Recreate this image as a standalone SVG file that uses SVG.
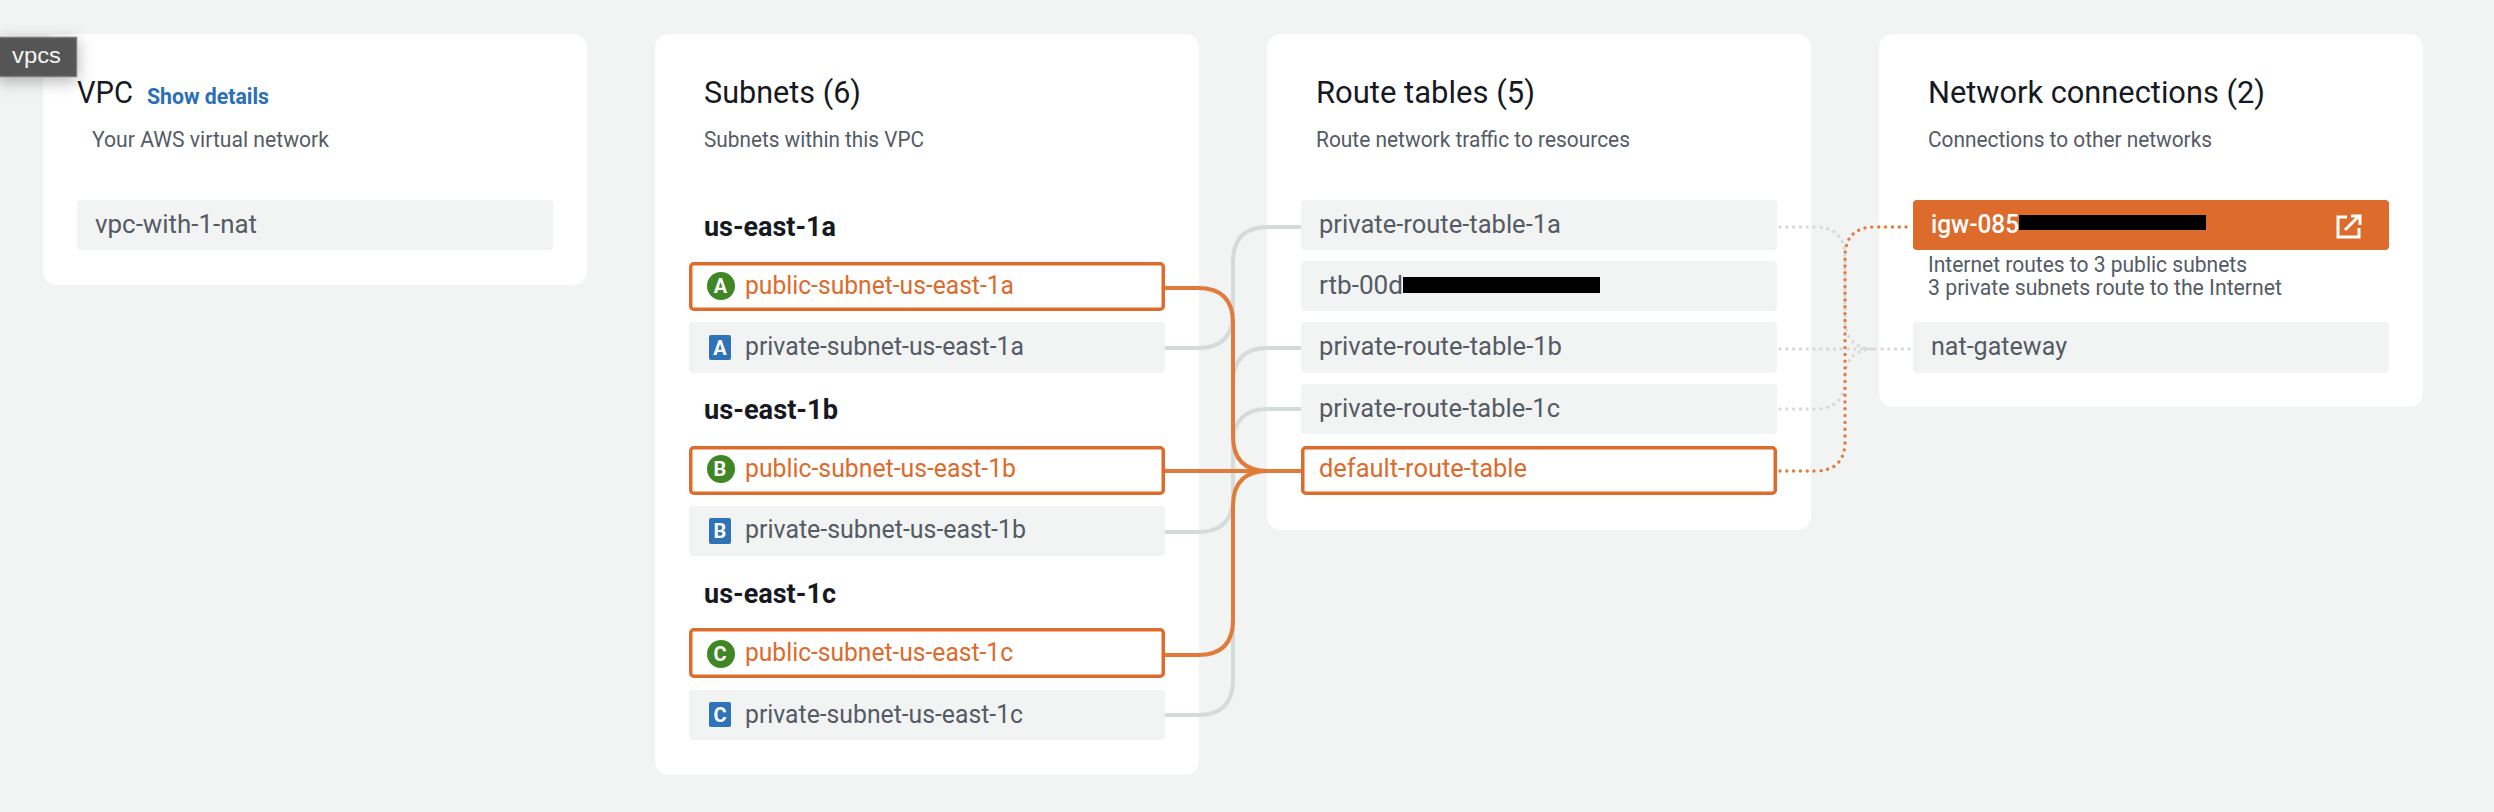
<svg xmlns="http://www.w3.org/2000/svg" width="2494" height="812" viewBox="0 0 2494 812">
<style>
text{font-family:Roboto,"Liberation Sans",sans-serif}
.card{fill:#fff}
.row{fill:#f2f3f3}
.sel{fill:#fff;stroke:#dd6b2b;stroke-width:3.5}
.t{font-size:31px;fill:#16191f}
.s{font-size:22px;fill:#545b64}
.i{font-size:26px;fill:#545b64}
.o{font-size:26px;fill:#dd6b2b}
.az{font-size:28px;font-weight:700;fill:#16191f}
.b{font-size:20px;font-weight:700;fill:#fff;text-anchor:middle}
.g{fill:#3f8624}
.a{fill:#2e73b8}
.red{fill:#000}
.grey,.org,.gd,.od{fill:none}
.grey{stroke:#d5dbdb;stroke-width:4}
.org{stroke:#e07b39;stroke-width:4}
.gd{stroke:#d5dbdb;stroke-width:3.4;stroke-linecap:round;stroke-dasharray:0 6.8}
.od{stroke:#e07b39;stroke-width:3.4;stroke-linecap:round;stroke-dasharray:0 6.8}
</style>
<defs>
<filter id="sh" x="-40%" y="-60%" width="180%" height="240%"><feDropShadow dx="0" dy="4" stdDeviation="8" flood-color="#000" flood-opacity=".3"/></filter>
<filter id="soft" x="-5%" y="-30%" width="110%" height="160%"><feGaussianBlur stdDeviation="0.6"/></filter>
</defs>
<rect width="2494" height="812" fill="#f2f3f3"/>

<g id="card-vpc">
<rect class="card" x="43" y="34" width="544" height="251" rx="14"/>
<text class="t" x="77" y="103" textLength="56" lengthAdjust="spacingAndGlyphs">VPC</text>
<text x="147" y="104" font-size="22" font-weight="700" fill="#2a6fb8" textLength="122" lengthAdjust="spacingAndGlyphs">Show details</text>
<text class="s" x="92" y="147" textLength="237" lengthAdjust="spacingAndGlyphs">Your AWS virtual network</text>
</g>
<g id="vpc-with-1-nat">
<rect class="row" x="77" y="200" width="476" height="50" rx="4"/>
<text class="i" x="95" y="233" textLength="162" lengthAdjust="spacingAndGlyphs">vpc-with-1-nat</text>
</g>

<g id="card-subnets">
<rect class="card" x="655" y="34" width="544" height="741" rx="14"/>
<text class="t" x="704" y="103" textLength="157" lengthAdjust="spacingAndGlyphs">Subnets (6)</text>
<text class="s" x="704" y="147" textLength="220" lengthAdjust="spacingAndGlyphs">Subnets within this VPC</text>
<text class="az" x="704" y="236" textLength="132" lengthAdjust="spacingAndGlyphs">us-east-1a</text>
<text class="az" x="704" y="419" textLength="134" lengthAdjust="spacingAndGlyphs">us-east-1b</text>
<text class="az" x="704" y="603" textLength="132" lengthAdjust="spacingAndGlyphs">us-east-1c</text>
</g>
<g id="card-route-tables">
<rect class="card" x="1267" y="34" width="544" height="496" rx="14"/>
<text class="t" x="1316" y="103" textLength="219" lengthAdjust="spacingAndGlyphs">Route tables (5)</text>
<text class="s" x="1316" y="147" textLength="314" lengthAdjust="spacingAndGlyphs">Route network traffic to resources</text>
</g>
<g id="card-network-connections">
<rect class="card" x="1879" y="34" width="544" height="373" rx="14"/>
<text class="t" x="1928" y="103" textLength="337" lengthAdjust="spacingAndGlyphs">Network connections (2)</text>
<text class="s" x="1928" y="147" textLength="284" lengthAdjust="spacingAndGlyphs">Connections to other networks</text>
<text class="s" x="1928" y="272" textLength="319" lengthAdjust="spacingAndGlyphs">Internet routes to 3 public subnets</text>
<text class="s" x="1928" y="295" textLength="354" lengthAdjust="spacingAndGlyphs">3 private subnets route to the Internet</text>
</g>

<g id="connectors">
<path class="grey" d="M1301 227H1268Q1233 227 1233 262V680Q1233 715 1198 715H1165"/>
<path class="grey" d="M1165 348H1198Q1233 348 1233 313"/>
<path class="grey" d="M1165 532H1198Q1233 532 1233 497"/>
<path class="grey" d="M1301 348H1268Q1233 348 1233 383"/>
<path class="grey" d="M1301 409H1268Q1233 409 1233 444"/>
<path class="gd" d="M1780 227H1815Q1845 227 1845 257V319Q1845 349 1875 349"/>
<path class="gd" d="M1780 349H1910"/>
<path class="gd" d="M1780 409H1815Q1845 409 1845 379Q1845 349 1875 349"/>
<path class="org" d="M1165 288H1198Q1233 288 1233 323V436Q1233 471 1268 471H1301"/>
<path class="org" d="M1165 471H1301"/>
<path class="org" d="M1165 655H1198Q1233 655 1233 620V506Q1233 471 1268 471"/>
<path class="od" d="M1780 471H1815Q1845 471 1845 441V257Q1845 227 1875 227H1910"/>
</g>

<g id="public-subnet-us-east-1a">
<rect class="sel" x="690.75" y="263.75" width="472.5" height="45.5" rx="3"/>
<circle class="g" cx="721" cy="286" r="14"/><text class="b" x="720.500" y="293">A</text>
<text class="o" x="745" y="294" textLength="269" lengthAdjust="spacingAndGlyphs">public-subnet-us-east-1a</text>
</g>
<g id="private-subnet-us-east-1a">
<rect class="row" x="689" y="322" width="476" height="51" rx="4"/>
<rect class="a" x="709" y="335" width="22" height="25" rx="2"/><text class="b" x="720" y="354.500">A</text>
<text class="i" x="745" y="355" textLength="279" lengthAdjust="spacingAndGlyphs">private-subnet-us-east-1a</text>
</g>
<g id="public-subnet-us-east-1b">
<rect class="sel" x="690.75" y="447.75" width="472.5" height="45.5" rx="3"/>
<circle class="g" cx="721" cy="469" r="14"/><text class="b" x="720" y="476">B</text>
<text class="o" x="745" y="477" textLength="271" lengthAdjust="spacingAndGlyphs">public-subnet-us-east-1b</text>
</g>
<g id="private-subnet-us-east-1b">
<rect class="row" x="689" y="506" width="476" height="50" rx="4"/>
<rect class="a" x="709" y="518" width="22" height="26" rx="2"/><text class="b" x="720" y="537.500">B</text>
<text class="i" x="745" y="538" textLength="281" lengthAdjust="spacingAndGlyphs">private-subnet-us-east-1b</text>
</g>
<g id="public-subnet-us-east-1c">
<rect class="sel" x="690.75" y="629.75" width="472.5" height="46.5" rx="3"/>
<circle class="g" cx="721" cy="654" r="14"/><text class="b" x="720" y="661">C</text>
<text class="o" x="745" y="661" textLength="268" lengthAdjust="spacingAndGlyphs">public-subnet-us-east-1c</text>
</g>
<g id="private-subnet-us-east-1c">
<rect class="row" x="689" y="690" width="476" height="50" rx="4"/>
<rect class="a" x="709" y="702" width="22" height="25" rx="2"/><text class="b" x="720" y="721.500">C</text>
<text class="i" x="745" y="723" textLength="278" lengthAdjust="spacingAndGlyphs">private-subnet-us-east-1c</text>
</g>

<g id="private-route-table-1a">
<rect class="row" x="1301" y="200" width="476" height="50" rx="4"/>
<text class="i" x="1319" y="233" textLength="242" lengthAdjust="spacingAndGlyphs">private-route-table-1a</text>
</g>
<g id="rtb-00d">
<rect class="row" x="1301" y="261" width="476" height="50" rx="4"/>
<text class="i" x="1319" y="294" textLength="84" lengthAdjust="spacingAndGlyphs">rtb-00d</text>
<rect class="red" x="1403" y="277" width="197" height="16" filter="url(#soft)"/>
</g>
<g id="private-route-table-1b">
<rect class="row" x="1301" y="322" width="476" height="51" rx="4"/>
<text class="i" x="1319" y="355" textLength="243" lengthAdjust="spacingAndGlyphs">private-route-table-1b</text>
</g>
<g id="private-route-table-1c">
<rect class="row" x="1301" y="384" width="476" height="50" rx="4"/>
<text class="i" x="1319" y="417" textLength="241" lengthAdjust="spacingAndGlyphs">private-route-table-1c</text>
</g>
<g id="default-route-table">
<rect class="sel" x="1302.75" y="447.75" width="472.5" height="45.5" rx="3"/>
<text class="o" x="1319" y="477" textLength="208" lengthAdjust="spacingAndGlyphs">default-route-table</text>
</g>

<g id="igw-085">
<rect x="1913" y="200" width="476" height="50" rx="4" fill="#dd6b2b"/>
<text x="1931" y="233" font-size="26" font-weight="500" fill="#fff" textLength="88" lengthAdjust="spacingAndGlyphs">igw-085</text>
<rect class="red" x="2019" y="215" width="187" height="15" filter="url(#soft)"/>
<path d="M2347 217H2338V237H2359V228M2345 230L2359 216M2351 216H2360V225" fill="none" stroke="#fff" stroke-width="3"/>
</g>
<g id="nat-gateway">
<rect class="row" x="1913" y="322" width="476" height="51" rx="4"/>
<text class="i" x="1931" y="355" textLength="136" lengthAdjust="spacingAndGlyphs">nat-gateway</text>
</g>

<g id="tooltip-vpcs">
<rect x="-2" y="37.500" width="78.500" height="39" fill="#545454" stroke="#7a7a7a" stroke-width="1.500" filter="url(#sh)"/>
<text x="12" y="63" font-size="22" fill="#f2f3f3" style="font-family:'Liberation Sans',sans-serif" textLength="49" lengthAdjust="spacingAndGlyphs">vpcs</text>
</g>
</svg>
